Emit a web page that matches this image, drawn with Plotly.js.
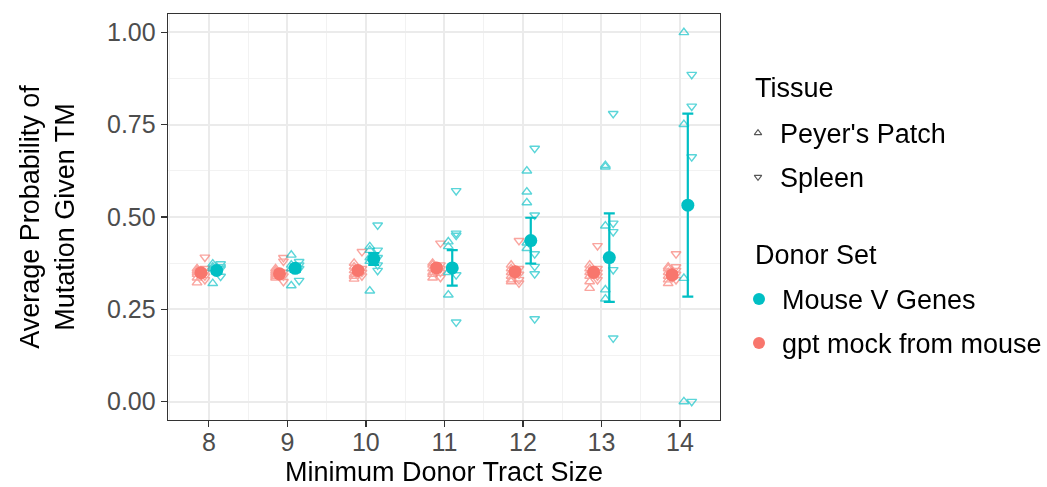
<!DOCTYPE html>
<html>
<head>
<meta charset="utf-8">
<script src="https://cdn.plot.ly/plotly-3.0.1.min.js"></script>
<style>
  html, body { margin: 0; padding: 0; background: #ffffff; }
  #chart { width: 1047px; height: 487px; }
</style>
</head>
<body>
<div id="chart"></div>
<script>
// Minimum donor tract size (x categories)
const tractSizes = [8, 9, 10, 11, 12, 13, 14];

// Per-mouse average probabilities, one list per tract size
const mouseVPeyer = [
  [0.320, 0.373, 0.365, 0.360],
  [0.397, 0.314, 0.370, 0.360],
  [0.420, 0.300, 0.410, 0.390, 0.380],
  [0.433, 0.420, 0.350, 0.289],
  [0.625, 0.568, 0.539, 0.415, 0.430],
  [0.636, 0.640, 0.476, 0.303, 0.278],
  [1.000, 0.751, 0.334, 0.000]
];
const mouseVSpleen = [
  [0.373, 0.339, 0.360, 0.365],
  [0.379, 0.328, 0.370, 0.360],
  [0.478, 0.410, 0.355, 0.390, 0.370],
  [0.571, 0.456, 0.450, 0.343, 0.215],
  [0.686, 0.505, 0.400, 0.366, 0.346, 0.224],
  [0.780, 0.483, 0.460, 0.357, 0.172],
  [0.886, 0.800, 0.663, 0.000]
];
const gptPeyer = [
  [0.322, 0.335, 0.345, 0.350, 0.355, 0.360],
  [0.335, 0.340, 0.345, 0.350, 0.355, 0.360],
  [0.375, 0.332, 0.345, 0.355, 0.365, 0.340],
  [0.335, 0.350, 0.360, 0.370, 0.375, 0.345],
  [0.325, 0.340, 0.350, 0.360, 0.370, 0.330],
  [0.307, 0.325, 0.340, 0.350, 0.360, 0.370],
  [0.320, 0.330, 0.340, 0.350, 0.360, 0.365]
];
const gptSpleen = [
  [0.391, 0.360, 0.350, 0.340, 0.330],
  [0.390, 0.380, 0.325, 0.350, 0.340],
  [0.406, 0.360, 0.350, 0.340],
  [0.429, 0.336, 0.350, 0.360, 0.370],
  [0.436, 0.321, 0.345, 0.360, 0.330],
  [0.422, 0.330, 0.350, 0.360, 0.340],
  [0.400, 0.330, 0.345, 0.355, 0.365]
];

// Group means and error half-widths
const mouseVMean = [0.355, 0.361, 0.386, 0.362, 0.436, 0.390, 0.532];
const mouseVErr  = [0.008, 0.010, 0.016, 0.048, 0.062, 0.120, 0.248];
const gptMean    = [0.349, 0.346, 0.355, 0.362, 0.352, 0.350, 0.343];
const gptErr     = [0.006, 0.006, 0.007, 0.008, 0.008, 0.008, 0.008];

const yTickVals  = [0, 0.25, 0.5, 0.75, 1];
const yTickText  = ['0.00', '0.25', '0.50', '0.75', '1.00'];

const TEAL = '#00BFC4';
const SALMON = '#F8766D';
const FONT = 'Liberation Sans, Arial, sans-serif';

// Spread a per-category list of lists into x/y arrays, shifted by a dodge offset
function spread(groups, shift) {
  const x = [], y = [];
  groups.forEach((vals, i) => vals.forEach(v => { x.push(tractSizes[i] + shift); y.push(v); }));
  return { x, y };
}

function pointTrace(groups, shift, color, symbol) {
  const d = spread(groups, shift);
  return {
    type: 'scatter', mode: 'markers', x: d.x, y: d.y,
    xaxis: 'x', yaxis: 'y', showlegend: false, hoverinfo: 'y',
    opacity: 0.65,
    marker: { symbol: symbol, size: 8.5, color: color, line: { color: color, width: 1.4 } }
  };
}

function meanTrace(means, errs, shift, color) {
  return {
    type: 'scatter', mode: 'markers',
    x: tractSizes.map(t => t + shift), y: means,
    xaxis: 'x', yaxis: 'y', showlegend: false, hoverinfo: 'y',
    marker: { symbol: 'circle', size: 13, color: color },
    error_y: { type: 'data', array: errs, visible: true, color: color, thickness: 2.2, width: 5.5 }
  };
}

const traces = [
  pointTrace(gptPeyer, -0.15, SALMON, 'triangle-up-open'),
  pointTrace(gptSpleen, -0.05, SALMON, 'triangle-down-open'),
  pointTrace(mouseVPeyer, 0.05, TEAL, 'triangle-up-open'),
  pointTrace(mouseVSpleen, 0.15, TEAL, 'triangle-down-open'),
  meanTrace(gptMean, gptErr, -0.10, SALMON),
  meanTrace(mouseVMean, mouseVErr, 0.10, TEAL)
];

// Legend keys, laid out on a helper axis pair measured in page pixels
traces.push({
  type: 'scatter', mode: 'markers', xaxis: 'x2', yaxis: 'y2',
  x: [758, 758], y: [133, 177], showlegend: false, hoverinfo: 'skip',
  marker: {
    symbol: ['triangle-up-open', 'triangle-down-open'], size: 6.5,
    color: '#555555', line: { color: '#555555', width: 1.1 }
  }
});
traces.push({
  type: 'scatter', mode: 'markers', xaxis: 'x2', yaxis: 'y2',
  x: [759, 759], y: [299, 343], showlegend: false, hoverinfo: 'skip',
  marker: { symbol: 'circle', size: 12, color: [TEAL, SALMON], opacity: 1 }
});

const legendText = [
  { text: 'Tissue', x: 753, y: 88 },
  { text: "Peyer's Patch", x: 778, y: 134 },
  { text: 'Spleen', x: 778, y: 178 },
  { text: 'Donor Set', x: 753, y: 255 },
  { text: 'Mouse V Genes', x: 780, y: 300 },
  { text: 'gpt mock from mouse', x: 780, y: 344 }
];

const annotations = legendText.map(t => ({
  xref: 'x2', yref: 'y2', x: t.x, y: t.y, text: t.text, showarrow: false,
  xanchor: 'left', yanchor: 'middle', font: { family: FONT, size: 27, color: '#000000' }
}));

const gridMajor = '#EBEBEB';

const layout = {
  width: 1047, height: 487,
  paper_bgcolor: '#ffffff', plot_bgcolor: '#ffffff',
  margin: { l: 168, r: 10, t: 14, b: 67 },
  showlegend: false,
  font: { family: FONT, color: '#000000' },
  xaxis: {
    domain: [0, 552 / 869],
    range: [7.48, 14.51],
    tickvals: tractSizes, ticktext: tractSizes.map(String),
    ticks: 'outside', ticklen: 6, tickwidth: 1.3, tickcolor: '#333333',
    ticklabelstandoff: -6,
    tickfont: { family: FONT, size: 25, color: '#4D4D4D' },
    showgrid: true, gridcolor: gridMajor, gridwidth: 2,
    minor: { dtick: 0.5, tick0: 7.5, showgrid: true, gridcolor: '#F2F2F2', gridwidth: 1, ticks: '' },
    showline: true, mirror: true, linecolor: '#333333', linewidth: 1.3,
    zeroline: false,
    title: { text: 'Minimum Donor Tract Size', font: { family: FONT, size: 27, color: '#000000' }, standoff: 8 }
  },
  yaxis: {
    domain: [0, 1],
    range: [-0.05, 1.05],
    tickvals: yTickVals, ticktext: yTickText,
    ticks: 'outside', ticklen: 6, tickwidth: 1.3, tickcolor: '#333333',
    tickfont: { family: FONT, size: 25, color: '#4D4D4D' },
    showgrid: true, gridcolor: gridMajor, gridwidth: 2,
    minor: { dtick: 0.125, tick0: 0.125, showgrid: true, gridcolor: '#F2F2F2', gridwidth: 1, ticks: '' },
    showline: true, mirror: true, linecolor: '#333333', linewidth: 1.3,
    zeroline: false,
    title: { text: 'Average Probability of<br>Mutation Given TM', font: { family: FONT, size: 27, color: '#000000' }, standoff: 24 }
  },
  xaxis2: {
    domain: [552 / 869, 1], range: [720, 1037], anchor: 'y2',
    visible: false, fixedrange: true
  },
  yaxis2: {
    domain: [0, 1], range: [420, 14], anchor: 'x2',
    visible: false, fixedrange: true
  },
  annotations: annotations
};

Plotly.newPlot('chart', traces, layout, { displayModeBar: false, staticPlot: true });
</script>
</body>
</html>
